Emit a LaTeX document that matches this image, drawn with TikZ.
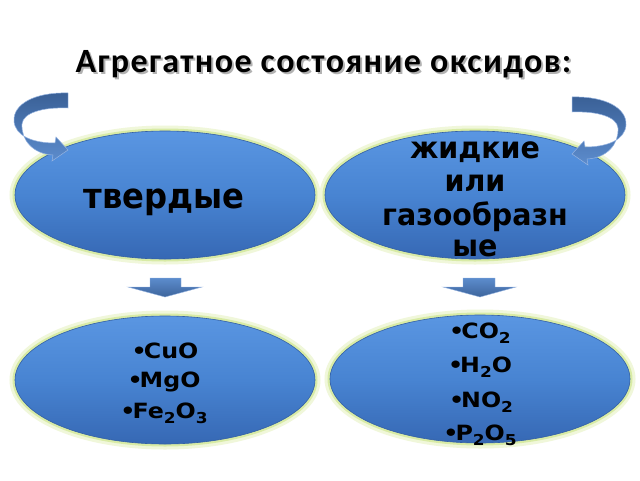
\documentclass[tikz,border=0pt]{standalone}
\usepackage{fontspec}
\setmainfont{DejaVu Sans}
\newfontfamily\ttlfont{Carlito}[LetterSpace=4]
\newfontfamily\bigfont{DejaVu Sans}[FakeStretch=0.92]
\newfontfamily\midfont{DejaVu Sans}[FakeStretch=0.95]
\newfontfamily\smallfont{DejaVu Sans}[FakeStretch=1.13]
\usetikzlibrary{shapes.geometric}
\definecolor{glowA}{RGB}{240,247,218}
\definecolor{glowB}{RGB}{216,235,165}
\definecolor{ellTop}{RGB}{90,150,226}
\definecolor{ellMid}{RGB}{72,132,210}
\definecolor{ellBot}{RGB}{54,104,180}
\definecolor{ellLine}{RGB}{52,96,165}
\definecolor{arrDark}{RGB}{58,96,150}
\definecolor{arrLight}{RGB}{92,140,205}
\definecolor{arrEdge}{RGB}{150,180,225}
\newcommand\sbs[1]{\raisebox{-5pt}{\fontsize{15}{15}\selectfont #1}}
\newcommand\blt{•\kern-3pt}
\begin{document}
\begin{tikzpicture}[x=1pt,y=-1pt,
  oval/.style={ellipse, minimum width=300pt, minimum height=128pt, inner sep=0pt,
    top color=ellTop, bottom color=ellBot, middle color=ellMid,
    draw=ellLine, line width=0.6pt,
    preaction={draw=glowA, line width=11pt},
    preaction={draw=glowB, line width=5pt}},
  bigtxt/.style={font=\bigfont\fontsize{35}{35}\selectfont\bfseries, anchor=base, inner sep=0pt},
  midtxt/.style={font=\midfont\fontsize{30}{33}\selectfont\bfseries, anchor=base, inner sep=0pt},
  smalltxt/.style={font=\smallfont\fontsize{21}{30}\selectfont\bfseries, anchor=base, inner sep=0pt},
  titletxt/.style={font=\ttlfont\fontsize{34}{34}\selectfont\bfseries, anchor=base, inner sep=0pt},
  blockarrow/.style={top color=arrLight, bottom color=arrDark!90!arrLight, draw=arrEdge, line width=0.4pt},
  curvearrow/.style={top color=arrDark, bottom color=arrLight, draw=arrEdge, line width=0.5pt}]
\useasboundingbox (0,0) rectangle (640,480);
\fill[white] (0,0) rectangle (640,480);
% title
\node[titletxt, text=black!50, opacity=0.6] (titleshadow) at (325.5,74.5) {Агрегатное состояние оксидов:};
\node[titletxt] (title) at (323.5,72) {Агрегатное состояние оксидов:};
% ellipses
\node[oval] (e1) at (165,195) {};
\node[oval] (e2) at (475,195) {};
\node[oval] (e3) at (165,380) {};
\node[oval] (e4) at (480,379) {};
% texts
\node[bigtxt] (t1) at (164,208) {твердые};
\node[midtxt] (t2a) at (475,158) {жидкие};
\node[midtxt] (t2b) at (475,191) {или};
\node[midtxt] (t2c) at (475,225) {газообразн};
\node[midtxt] (t2d) at (475,256) {ые};
\node[smalltxt] (t3a) at (165,358) {\blt CuO};
\node[smalltxt] (t3b) at (164,387) {\blt MgO};
\node[smalltxt] (t3c) at (164,418) {\blt Fe\sbs{2}O\sbs{3}};
\node[smalltxt] (t4a) at (480,338) {\blt CO\sbs{2}};
\node[smalltxt] (t4b) at (480,372) {\blt H\sbs{2}O};
\node[smalltxt] (t4c) at (481,407) {\blt NO\sbs{2}};
\node[smalltxt] (t4d) at (480,440) {\blt P\sbs{2}O\sbs{5}};
% down block arrows
\path[blockarrow] (150,278) -- (181,278) -- (181,287) -- (202,287) -- (165,297) -- (128,287) -- (150,287) -- cycle;
\path[blockarrow] (463,278) -- (495,278) -- (495,287) -- (516,287) -- (480,297) -- (443,287) -- (463,287) -- cycle;
% curved arrows
\path[curvearrow] (68,93) .. controls (35,92) and (13,104) .. (14,121)
  .. controls (15,136) and (33,143) .. (55,143) -- (56,137) -- (68,150) -- (52,161) -- (53,155)
  .. controls (33,154) and (21,140) .. (22,124) .. controls (23,113) and (42,107) .. (68,108) -- cycle;
\begin{scope}[shift={(640,4)}, xscale=-1]
\path[curvearrow] (68,93) .. controls (35,92) and (13,104) .. (14,121)
  .. controls (15,136) and (33,143) .. (55,143) -- (56,137) -- (68,150) -- (52,161) -- (53,155)
  .. controls (33,154) and (21,140) .. (22,124) .. controls (23,113) and (42,107) .. (68,108) -- cycle;
\end{scope}
\end{tikzpicture}
\end{document}
